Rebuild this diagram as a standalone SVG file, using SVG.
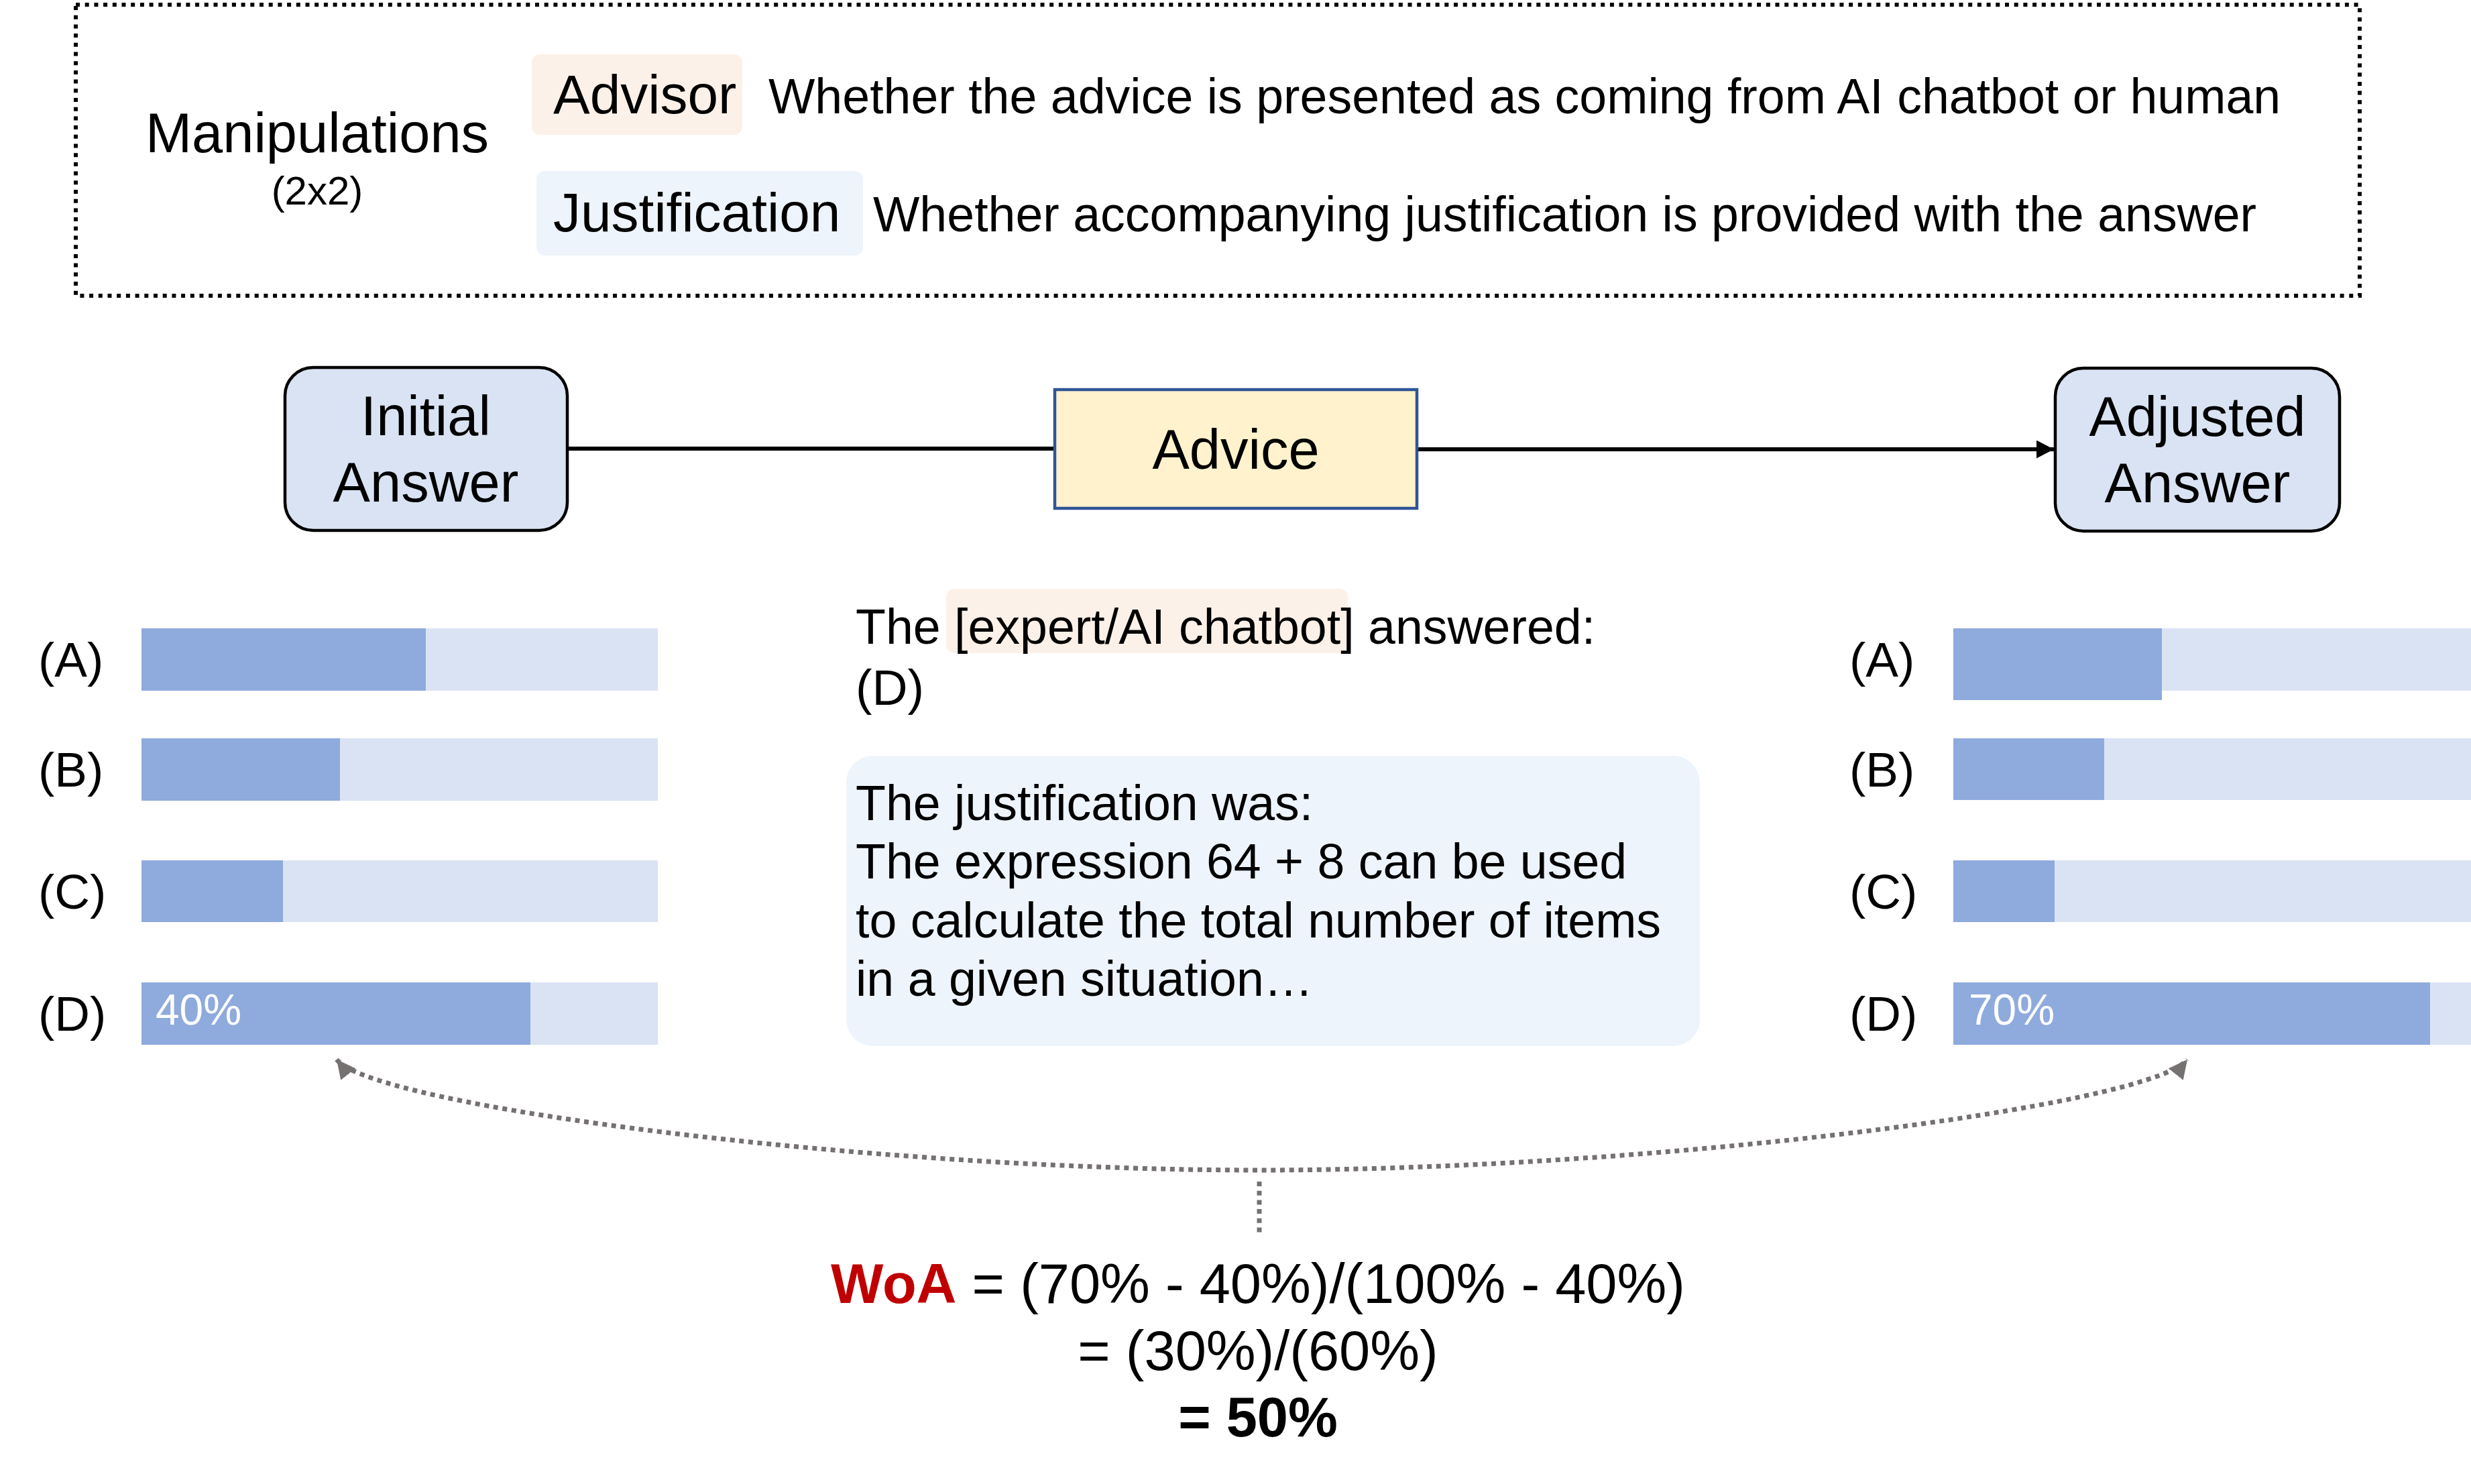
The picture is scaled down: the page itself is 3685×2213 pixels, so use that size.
<svg xmlns="http://www.w3.org/2000/svg" width="3685" height="2213" viewBox="0 0 3685 2213">
<defs>
<style>
text{font-family:"Liberation Sans",Arial,Helvetica,sans-serif;fill:#000}
.lbl{font-size:83px;text-anchor:middle}
.desc{font-size:73.5px}
.key{font-size:82px}
.opt{font-size:73px}
.pct{font-size:64px;fill:#fff}
.light{fill:#dae3f3}
.dark{fill:#8faadc}
.node{fill:#dae3f3;stroke:#000;stroke-width:4.5}
.dots{fill:none;stroke:#767171;stroke-width:7;stroke-dasharray:7 6.7}
.form{font-size:83px;text-anchor:middle}
</style>
<marker id="arrBlack" markerUnits="userSpaceOnUse" markerWidth="30" markerHeight="30" refX="26" refY="13.5" orient="auto">
<path d="M0,0 L26,13.5 L0,27 z" fill="#000"/>
</marker>
<marker id="arrGray" markerUnits="userSpaceOnUse" markerWidth="32" markerHeight="32" refX="28" refY="14" orient="auto-start-reverse">
<path d="M0,0 L28,14 L0,28 z" fill="#767171"/>
</marker>
</defs>
<rect width="3685" height="2213" fill="#fff"/>

<g id="manipulations">
<rect x="113" y="7" width="3406" height="434" fill="none" stroke="#000" stroke-width="6" stroke-dasharray="6 7.7"/>
<text x="473" y="227" font-size="83" text-anchor="middle">Manipulations</text>
<text x="473" y="305" font-size="60" text-anchor="middle">(2x2)</text>
<rect x="793" y="81" width="314" height="120" rx="12" fill="#fcf1e8"/>
<text class="key" x="825" y="169">Advisor</text>
<text class="desc" x="1146" y="169">Whether the advice is presented as coming from AI chatbot or human</text>
<rect x="800" y="255" width="487" height="126" rx="12" fill="#eef4fb"/>
<text class="key" x="825" y="345">Justification</text>
<text class="desc" x="1302" y="345">Whether accompanying justification is provided with the answer</text>
</g>

<g id="connectors">
<line x1="846" y1="669" x2="1573" y2="669" stroke="#000" stroke-width="6"/>
<line x1="2113" y1="670" x2="3063" y2="670" stroke="#000" stroke-width="6" marker-end="url(#arrBlack)"/>
<path class="dots" d="M502,1580 C557,1650 1297,1745 1878,1745 C2459,1745 3207,1650 3262,1580" marker-start="url(#arrGray)" marker-end="url(#arrGray)"/>
<line class="dots" x1="1878" y1="1762" x2="1878" y2="1843"/>
</g>

<g id="initial-answer">
<rect class="node" x="425" y="548" width="421" height="243" rx="42"/>
<text class="lbl" x="635" y="649">Initial</text>
<text class="lbl" x="635" y="748">Answer</text>
</g>

<g id="advice">
<rect x="1573" y="581" width="540" height="177" fill="#fff2cc" stroke="#2f5597" stroke-width="4.5"/>
<text class="lbl" x="1843" y="699">Advice</text>
</g>

<g id="adjusted-answer">
<rect class="node" x="3065" y="549" width="424" height="243" rx="42"/>
<text class="lbl" x="3277" y="650">Adjusted</text>
<text class="lbl" x="3277" y="749">Answer</text>
</g>

<g id="initial-bars">
<text class="opt" x="57" y="1009">(A)</text>
<text class="opt" x="57" y="1173">(B)</text>
<text class="opt" x="57" y="1355">(C)</text>
<text class="opt" x="57" y="1537">(D)</text>
<rect class="light" x="211" y="937" width="770" height="93"/>
<rect class="dark" x="211" y="937" width="424" height="93"/>
<rect class="light" x="211" y="1101" width="770" height="93"/>
<rect class="dark" x="211" y="1101" width="296" height="93"/>
<rect class="light" x="211" y="1283" width="770" height="92"/>
<rect class="dark" x="211" y="1283" width="211" height="92"/>
<rect class="light" x="211" y="1465" width="770" height="93"/>
<rect class="dark" x="211" y="1465" width="580" height="93"/>
<text class="pct" x="232" y="1528">40%</text>
</g>

<g id="advice-content">
<rect x="1411" y="878" width="599" height="96" rx="12" fill="#fcf1e8"/>
<text class="desc" x="1276" y="960">The [expert/AI chatbot] answered:</text>
<text class="desc" x="1276" y="1051">(D)</text>
<rect x="1262" y="1127" width="1273" height="433" rx="40" fill="#eef4fb"/>
<text class="desc" x="1276" y="1223">The justification was:</text>
<text class="desc" x="1276" y="1310">The expression 64 + 8 can be used</text>
<text class="desc" x="1276" y="1398">to calculate the total number of items</text>
<text class="desc" x="1276" y="1485">in a given situation…</text>
</g>

<g id="adjusted-bars">
<text class="opt" x="2758" y="1009">(A)</text>
<text class="opt" x="2758" y="1173">(B)</text>
<text class="opt" x="2758" y="1355">(C)</text>
<text class="opt" x="2758" y="1537">(D)</text>
<rect class="light" x="2913" y="937" width="772" height="93"/>
<rect class="dark" x="2913" y="937" width="311" height="107"/>
<rect class="light" x="2913" y="1101" width="772" height="92"/>
<rect class="dark" x="2913" y="1101" width="225" height="92"/>
<rect class="light" x="2913" y="1283" width="772" height="92"/>
<rect class="dark" x="2913" y="1283" width="151" height="92"/>
<rect class="light" x="2913" y="1465" width="772" height="93"/>
<rect class="dark" x="2913" y="1465" width="711" height="93"/>
<text class="pct" x="2936" y="1528">70%</text>
</g>

<g id="woa-formula">
<text class="form" x="1876" y="1943"><tspan font-weight="bold" fill="#c00000">WoA</tspan> = (70% - 40%)/(100% - 40%)</text>
<text class="form" x="1876" y="2043">= (30%)/(60%)</text>
<text class="form" x="1876" y="2142" font-weight="bold">= 50%</text>
</g>
</svg>
